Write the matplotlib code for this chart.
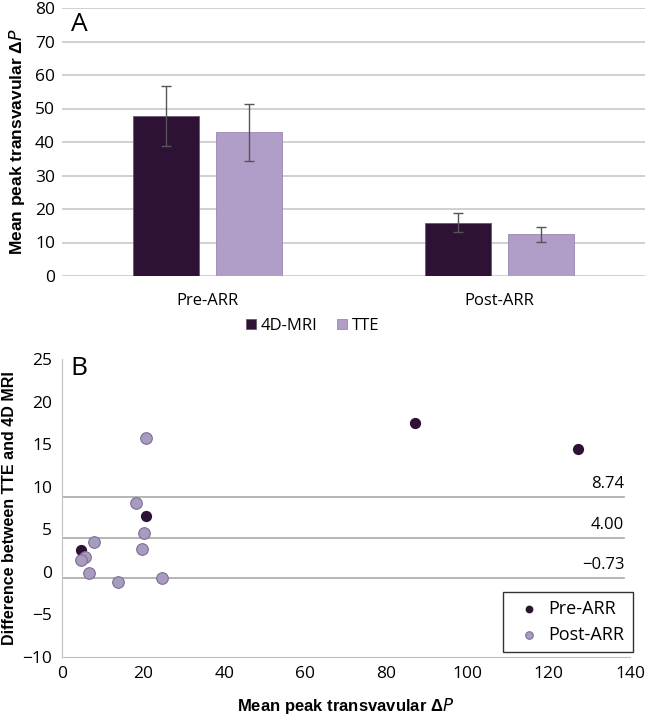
import matplotlib
matplotlib.use("Agg")
import matplotlib.pyplot as plt
import numpy as np

# Panel A: mean peak transvalvular gradient
groups = ["Pre-ARR", "Post-ARR"]
mri_mean = [47.7, 15.9]
mri_err_lo = [38.8, 13.2]
mri_err_hi = [56.7, 18.7]
tte_mean = [43.0, 12.4]
tte_err_lo = [34.4, 10.2]
tte_err_hi = [51.4, 14.6]

# Panel B: Bland-Altman points
pre_x = [4.8, 20.6, 86.9, 127.1]
pre_y = [2.6, 6.6, 17.5, 14.5]
post_x = [20.8, 18.2, 20.2, 19.6, 7.9, 5.6, 4.6, 6.7, 13.7, 24.6]
post_y = [15.7, 8.1, 4.6, 2.7, 3.5, 1.7, 1.4, -0.1, -1.2, -0.7]
limits = [8.74, 4.00, -0.73]
limit_labels = ["8.74", "4.00", "\u22120.73"]

DARK = "#2d1235"
LIGHT = "#b09ec8"
POST = "#a89bc0"
GRID = "#c8c8c8"
TICKFONT = ["Open Sans", "DejaVu Sans"]
LABFONT = ["Liberation Sans", "DejaVu Sans"]
TICK = 12.5

fig = plt.figure(figsize=(6.5, 7.23), dpi=100)

# ---- A ----
axA = fig.add_axes([62 / 650, 1 - 276 / 723, 583 / 650, 268 / 723])
x = np.arange(len(groups))
w = 0.226
off = 0.142
err_m = [np.array(mri_mean) - np.array(mri_err_lo), np.array(mri_err_hi) - np.array(mri_mean)]
err_t = [np.array(tte_mean) - np.array(tte_err_lo), np.array(tte_err_hi) - np.array(tte_mean)]
ekw = dict(ecolor="#555555", elinewidth=1.0, capsize=3.5, capthick=1.0)
axA.bar(x - off, mri_mean, w, color=DARK, edgecolor="#6a5a70", linewidth=0.6,
        yerr=err_m, error_kw=ekw, label="4D-MRI", zorder=3)
axA.bar(x + off, tte_mean, w, color=LIGHT, edgecolor="#9a88b0", linewidth=0.6,
        yerr=err_t, error_kw=ekw, label="TTE", zorder=3)
axA.set_xlim(-0.5, 1.5)
axA.set_ylim(0, 80)
axA.set_yticks(range(0, 81, 10))
axA.set_xticks(x)
axA.set_xticklabels(groups, fontfamily=TICKFONT, fontsize=12)
for t in axA.get_yticklabels():
    t.set_fontfamily(TICKFONT)
    t.set_fontsize(TICK)
axA.yaxis.grid(True, color=GRID, linewidth=1.2, zorder=0)
for s in axA.spines.values():
    s.set_visible(False)
axA.tick_params(length=0, pad=5)
axA.tick_params(axis="x", pad=12)
axA.set_ylabel("Mean peak transvavular \u0394$\\it{P}$", fontfamily=LABFONT,
               fontweight="bold", fontsize=12.5, labelpad=6)
axA.text(0.015, 0.985, "A", transform=axA.transAxes, fontsize=19, fontfamily=TICKFONT,
         va="top", ha="left")
axA.legend(loc="upper center", bbox_to_anchor=(0.43, -0.125), ncol=2, frameon=False,
           prop=dict(family=TICKFONT, size=12), handlelength=0.6, handleheight=0.6,
           handletextpad=0.3, columnspacing=1.2, borderpad=0)

# ---- B ----
axB = fig.add_axes([62 / 650, 1 - 656.7 / 723, 568 / 650, 297.4 / 723])
for v, lab in zip(limits, limit_labels):
    axB.axhline(v, xmin=0, xmax=0.99, color="#a8a8a8", linewidth=1.2, zorder=1)
    axB.text(0.99 * 140, v + 0.6, lab, ha="right", va="bottom",
             fontfamily=TICKFONT, fontsize=12)
axB.scatter(pre_x, pre_y, s=50, color=DARK, edgecolor=DARK, zorder=3, label="Pre-ARR")
axB.scatter(post_x, post_y, s=70, color=POST, edgecolor="#7e6e94", linewidth=0.8,
            zorder=3, label="Post-ARR")
axB.set_xlim(0, 140)
axB.set_ylim(-10, 25)
axB.set_xticks(range(0, 141, 20))
axB.set_yticks(range(-10, 26, 5))
axB.set_yticklabels([str(v).replace("-", "\u2212") for v in range(-10, 26, 5)])
for t in axB.get_xticklabels() + axB.get_yticklabels():
    t.set_fontfamily(TICKFONT)
    t.set_fontsize(TICK)
axB.spines["top"].set_visible(False)
axB.spines["right"].set_visible(False)
axB.spines["left"].set_color("#bfbfbf")
axB.spines["bottom"].set_color("#bfbfbf")
axB.tick_params(length=0, pad=7)
axB.set_ylabel("Difference between TTE and 4D MRI", fontfamily=LABFONT,
               fontweight="bold", fontsize=11.5, labelpad=4)
axB.set_xlabel("Mean peak transvavular \u0394$\\it{P}$", fontfamily=LABFONT,
               fontweight="bold", fontsize=12, labelpad=10)
axB.text(0.015, 1.01, "B", transform=axB.transAxes, fontsize=19, fontfamily=TICKFONT,
         va="top", ha="left")
leg = axB.legend(loc="lower right", bbox_to_anchor=(1.005, 0.015), frameon=True,
                 fancybox=False, prop=dict(family=TICKFONT, size=13),
                 handletextpad=0.1, borderpad=0.45, labelspacing=0.45,
                 borderaxespad=0, markerscale=0.65)
leg.get_frame().set_edgecolor("black")
leg.get_frame().set_linewidth(1.0)
leg._legend_box.align = "right"

fig.savefig("out.png", dpi=100)
